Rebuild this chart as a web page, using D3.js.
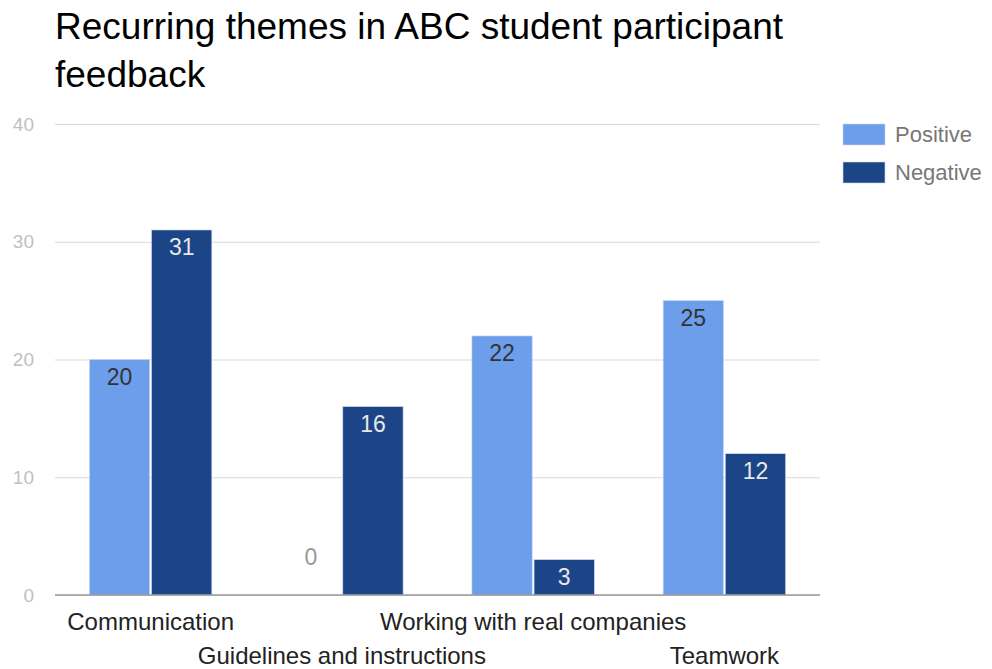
<!DOCTYPE html>
<html><head><meta charset="utf-8">
<script src="https://cdn.jsdelivr.net/npm/d3@7"></script>
<style>body{margin:0;background:#fff}svg{display:block}text{font-family:"Liberation Sans",Arial,sans-serif}</style>
</head><body><svg id="c" width="992" height="669"></svg>
<script>
const categories = ["Communication","Guidelines and instructions","Working with real companies","Teamwork"];
const seriesNames = ["Positive","Negative"];
const positive = [20,0,22,25];
const negative = [31,16,3,12];
const yTicks = [0,10,20,30,40];
const colors = ["#6d9eeb","#1c4587"];

const svg = d3.select("#c");
const m = {l:55, r:172, t:124, b:74};
const W = 992, H = 669;
const x = d3.scaleBand().domain(categories).range([m.l, W-m.r]).paddingInner(0.36).paddingOuter(0.18);
const xs = d3.scaleBand().domain(seriesNames).range([0, x.bandwidth()]).paddingInner(0.03);
const y = d3.scaleLinear().domain([0,40]).range([H-m.b, m.t]);

svg.append("text").attr("x",55).attr("y",39).attr("font-size",37).attr("fill","#000").text("Recurring themes in ABC student participant");
svg.append("text").attr("x",55).attr("y",87).attr("font-size",37).attr("fill","#000").text("feedback");

const yAxis = d3.axisLeft(y).tickValues(yTicks).tickSize(-(W-m.r-m.l)).tickPadding(21);
const gy = svg.append("g").attr("transform",`translate(${m.l},0)`).call(yAxis);
gy.select(".domain").remove();
gy.selectAll(".tick line").attr("stroke","#d9d9d9").attr("stroke-width",1.2);
gy.selectAll(".tick text").attr("fill","#c0c0c0").attr("font-size",19).attr("font-family","Liberation Sans, Arial, sans-serif");

const data = categories.map((c,i)=>({cat:c, vals:[positive[i],negative[i]]}));
const g = svg.append("g");
data.forEach(d=>{
  d.vals.forEach((v,j)=>{
    const bx = x(d.cat)+xs(seriesNames[j]);
    if (v>0) g.append("rect").attr("x",bx).attr("y",y(v)).attr("width",xs.bandwidth()).attr("height",y(0)-y(v))
      .attr("fill",colors[j]).attr("stroke","#c9d7ef").attr("stroke-width",0.6);
    const inside = v>0;
    g.append("text").attr("x",bx+xs.bandwidth()/2).attr("y", inside ? y(v)+25 : y(0)-30)
      .attr("text-anchor","middle").attr("font-size",23)
      .attr("fill", !inside ? "#999" : (j===0 ? "#333" : "#e8e8e8")).text(v);
  });
});

svg.append("line").attr("x1",m.l).attr("x2",W-m.r).attr("y1",y(0)).attr("y2",y(0)).attr("stroke","#999").attr("stroke-width",1.5);

const xAxis = d3.axisBottom(x).tickSize(0);
const gx = svg.append("g").attr("transform",`translate(0,${y(0)})`).call(xAxis);
gx.select(".domain").remove();
gx.selectAll(".tick text").attr("font-size",24).attr("fill","#222").attr("font-family","Liberation Sans, Arial, sans-serif")
  .attr("dy",null).attr("y",(d,i)=> i%2===0 ? 35 : 69);

const lg = svg.append("g");
seriesNames.forEach((s,i)=>{
  lg.append("rect").attr("x",843).attr("y",124+i*38).attr("width",42).attr("height",21).attr("fill",colors[i]).attr("stroke","#c9d7ef").attr("stroke-width",0.6);
  lg.append("text").attr("x",895).attr("y",142+i*38).attr("font-size",22).attr("fill","#777").text(s);
});
</script></body></html>
